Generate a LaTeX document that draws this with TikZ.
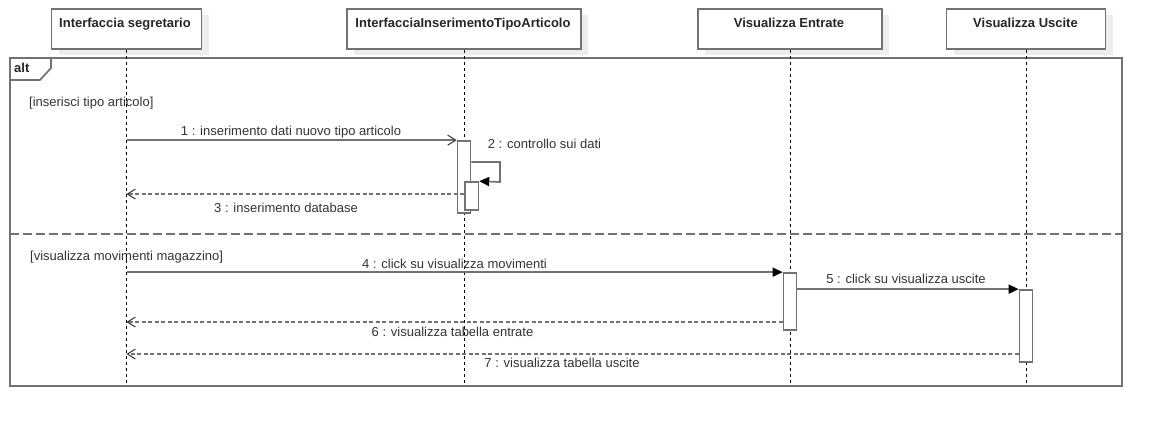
\documentclass[tikz,border=0pt]{standalone}
\usepackage{fontspec}
\setmainfont{Liberation Sans}
\usetikzlibrary{arrows.meta,calc}
\definecolor{ln}{HTML}{727272}
\definecolor{tx}{HTML}{333333}
\definecolor{sh}{HTML}{EDEDED}
\begin{document}
\begin{tikzpicture}[x=1pt,y=-1pt,
  hdr/.style={draw=ln, line width=1.7pt, fill=white, minimum height=40pt, inner sep=0pt},
  hdrtxt/.style={font=\bfseries\fontsize{13}{15}\selectfont, text=black!85, anchor=base, inner sep=0pt},
  lbl/.style={font=\fontsize{13}{15}\selectfont, text=tx, anchor=base, inner sep=0pt},
  guard/.style={lbl, anchor=base west},
  life/.style={draw=black, line width=1pt, dash pattern=on 3pt off 3pt},
  act/.style={draw=ln, line width=1.7pt, fill=white, minimum width=13pt, inner sep=0pt},
  msg/.style={draw=ln, line width=1.7pt},
  sync/.style={msg, -{Triangle[length=10pt,width=9pt,color=black]}},
  syncopen/.style={msg, -{Straight Barb[length=8pt,width=10pt,line width=1pt,color=tx]}},
  ret/.style={msg, dash pattern=on 4pt off 2.5pt, -{Straight Barb[length=8pt,width=10pt,line width=1pt,color=tx]}},
  frame/.style={draw=ln, line width=1.7pt}
]
\useasboundingbox (0,0) rectangle (1162,426);
% shadows of headers
\fill[sh] (58.5,15) rectangle (208.5,55);
\fill[sh] (354,15) rectangle (588,55);
\fill[sh] (705,15) rectangle (889,55);
\fill[sh] (953.5,15) rectangle (1112.5,55);
% headers
\node[hdr, minimum width=150pt] (h1) at (126.5,29) {};
\node[hdr, minimum width=234pt] (h2) at (464,29) {};
\node[hdr, minimum width=184pt] (h3) at (790,29) {};
\node[hdr, minimum width=159pt] (h4) at (1026,29) {};
\node[hdrtxt] (t1) at (125,27) {Interfaccia segretario};
\node[hdrtxt] (t2) at (463,27) {InterfacciaInserimentoTipoArticolo};
\node[hdrtxt] (t3) at (789,27) {Visualizza Entrate};
\node[hdrtxt] (t4) at (1025.5,27) {Visualizza Uscite};
% alt frame
\draw[frame] (10,58) rectangle (1122,386);
\draw[frame] (10,80) -- (40,80) -- (51,68) -- (51,58);
\node[hdrtxt, anchor=base west] (altlbl) at (14,72) {alt};
\draw[msg, dash pattern=on 9pt off 4pt] (10,234) -- (1122,234);
\node[guard] (g1) at (29,106) {[inserisci tipo articolo]};
\node[guard] (g2) at (30,260) {[visualizza movimenti magazzino]};
% lifelines
\coordinate (e1) at (h1.south |- 0,383);
\coordinate (e2) at (h2.south |- 0,383);
\coordinate (e3) at (h3.south |- 0,383);
\coordinate (e4) at (h4.south |- 0,383);
\draw[life] (h1.south) -- (e1);
\draw[life] (h2.south) -- (e2);
\draw[life] (h3.south) -- (e3);
\draw[life] (h4.south) -- (e4);
% activations
\node[act, minimum height=72pt] (a1) at (h2.south |- 0,177) {};
\node[act, minimum height=28pt, minimum width=13.5pt, anchor=west] (a2) at ($(h2.south |- 0,196)$) {};
\node[act, minimum height=57pt] (a3) at (h3.south |- 0,301.5) {};
\node[act, minimum height=72pt] (a4) at (h4.south |- 0,326) {};
% messages
\coordinate (c1) at (h1.south |- a1.north);
\draw[syncopen] (c1) -- (a1.north west);
\node[lbl] (l1) at (291,135) {1 : inserimento dati nuovo tipo articolo};
\coordinate (s1) at (a1.east |- 0,162);
\coordinate (s2) at (500,162);
\coordinate (s3) at (500,182);
\draw[sync] (s1) -- (s2) -- (s3) -- (a2.north east);
\node[lbl] (l2) at (544.5,148.5) {2 : controllo sui dati};
\coordinate (c3) at (h1.south |- 0,194);
\draw[ret] (a2.west |- c3) -- (c3);
\node[lbl] (l3) at (286,212.5) {3 : inserimento database};
\coordinate (c4) at (h1.south |- a3.north);
\draw[sync] (c4) -- (a3.north west);
\node[lbl] (l4) at (454.5,268.5) {4 : click su visualizza movimenti};
\coordinate (c5) at (a3.east |- a4.north);
\draw[sync] (c5) -- (a4.north west);
\node[lbl] (l5) at (906,283.5) {5 : click su visualizza uscite};
\coordinate (c6) at (h1.south |- 0,322);
\draw[ret] (a3.west |- c6) -- (c6);
\node[lbl] (l6) at (452.5,336.5) {6 : visualizza tabella entrate};
\coordinate (c7) at (h1.south |- 0,354);
\draw[ret] (a4.west |- c7) -- (c7);
\node[lbl] (l7) at (562,367.5) {7 : visualizza tabella uscite};
\end{tikzpicture}
\end{document}
